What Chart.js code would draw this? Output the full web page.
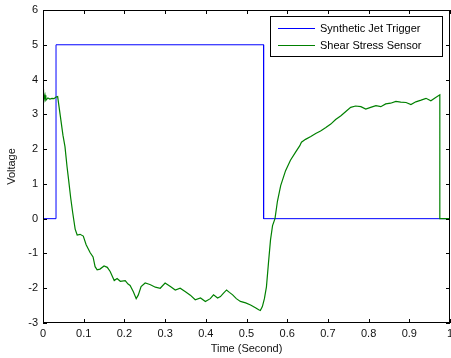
<!DOCTYPE html>
<html>
<head>
<meta charset="utf-8">
<script src="https://cdn.jsdelivr.net/npm/chart.js@4.4.1/dist/chart.umd.min.js"></script>
<style>
  html, body { margin: 0; padding: 0; background: #fff; }
  #wrap { width: 451px; height: 358px; }
</style>
</head>
<body>
<div id="wrap"><canvas id="c" width="451" height="358"></canvas></div>
<script>
// trigger signal (square pulse)
const triggerTime = [0, 0.032, 0.032, 0.542, 0.542, 1];
const triggerVolt = [0, 0, 5, 5, 0, 0];

// shear stress sensor
const sensorTime = [0, 0.001, 0.0025, 0.005, 0.007, 0.012, 0.017, 0.022, 0.027, 0.032, 0.036,
  0.042, 0.049, 0.054, 0.059, 0.063, 0.068, 0.073, 0.079, 0.084, 0.091, 0.099, 0.106, 0.116,
  0.123, 0.128, 0.133, 0.140, 0.150, 0.158, 0.165, 0.175, 0.182, 0.190, 0.202, 0.209, 0.214,
  0.222, 0.229, 0.234, 0.241, 0.251, 0.259, 0.264, 0.276, 0.288, 0.300, 0.313, 0.325, 0.337,
  0.350, 0.362, 0.374, 0.387, 0.399, 0.411, 0.419, 0.429, 0.436, 0.443, 0.451, 0.458, 0.466,
  0.475, 0.485, 0.498, 0.510, 0.522, 0.530, 0.534, 0.539, 0.544, 0.549, 0.554, 0.559, 0.564,
  0.570, 0.576, 0.584, 0.596, 0.608, 0.621, 0.631, 0.635, 0.645, 0.658, 0.670, 0.682, 0.695,
  0.707, 0.719, 0.732, 0.744, 0.756, 0.768, 0.781, 0.793, 0.805, 0.818, 0.830, 0.842, 0.854,
  0.867, 0.879, 0.892, 0.904, 0.916, 0.929, 0.941, 0.953, 0.963, 0.975, 0.975, 1];
const sensorVolt = [2.1, 3.75, 3.4, 3.55, 3.4, 3.47, 3.44, 3.46, 3.45, 3.5, 3.51,
  3.0, 2.4, 2.07, 1.5, 1.11, 0.6, 0.17, -0.3, -0.47, -0.45, -0.5, -0.75, -0.98,
  -1.1, -1.38, -1.47, -1.45, -1.36, -1.4, -1.52, -1.78, -1.72, -1.8, -1.78, -1.88, -1.92,
  -2.1, -2.3, -2.2, -1.95, -1.85, -1.88, -1.9, -1.97, -2.0, -1.85, -1.95, -2.05, -2.0,
  -2.1, -2.2, -2.33, -2.28, -2.38, -2.3, -2.19, -2.28, -2.24, -2.15, -2.05, -2.12, -2.19,
  -2.3, -2.38, -2.42, -2.48, -2.56, -2.62, -2.64, -2.53, -2.3, -1.96, -1.27, -0.61, -0.2,
  0.0, 0.5, 0.95, 1.38, 1.68, 1.92, 2.1, 2.2, 2.28, 2.36, 2.45, 2.52, 2.62,
  2.72, 2.85, 2.96, 3.08, 3.2, 3.24, 3.22, 3.15, 3.2, 3.25, 3.22, 3.3, 3.32,
  3.37, 3.35, 3.34, 3.28, 3.36, 3.41, 3.46, 3.39, 3.47, 3.56, 0, 0];

const xTicks = [0, 0.1, 0.2, 0.3, 0.4, 0.5, 0.6, 0.7, 0.8, 0.9, 1];
const yTicks = [-3, -2, -1, 0, 1, 2, 3, 4, 5, 6];

const FONT = { family: '"Liberation Sans", Arial, sans-serif', size: 11 };

// matlab style box, inward ticks and legend
const frame = {
  id: 'frame',
  afterDatasetsDraw(chart) {
    const { ctx, chartArea: a, scales: { x, y } } = chart;
    ctx.save();
    ctx.strokeStyle = '#000';
    ctx.lineWidth = 1;
    ctx.beginPath();
    xTicks.forEach(v => {
      const px = Math.round(x.getPixelForValue(v)) + 0.5;
      ctx.moveTo(px, a.bottom); ctx.lineTo(px, a.bottom - 4);
      ctx.moveTo(px, a.top); ctx.lineTo(px, a.top + 4);
    });
    yTicks.forEach(v => {
      const py = Math.round(y.getPixelForValue(v)) + 0.5;
      ctx.moveTo(a.left, py); ctx.lineTo(a.left + 4, py);
      ctx.moveTo(a.right, py); ctx.lineTo(a.right - 4, py);
    });
    ctx.stroke();
    ctx.strokeRect(a.left + 0.5, a.top + 0.5, a.right - a.left - 1, a.bottom - a.top - 1);

    // legend
    const bx = a.right - 180, by = a.top + 6, bw = 172, bh = 40;
    ctx.fillStyle = '#fff';
    ctx.fillRect(bx, by, bw, bh);
    ctx.strokeRect(bx + 0.5, by + 0.5, bw, bh);
    ctx.font = FONT.size + 'px ' + FONT.family;
    ctx.textBaseline = 'middle';
    chart.data.datasets.forEach((ds, i) => {
      const ly = Math.round(by + 12 + i * 17) + 0.5;
      ctx.strokeStyle = ds.borderColor;
      ctx.beginPath();
      ctx.moveTo(bx + 8, ly); ctx.lineTo(bx + 45, ly);
      ctx.stroke();
      ctx.fillStyle = '#000';
      ctx.fillText(ds.label, bx + 50, ly);
    });
    ctx.restore();
  }
};

new Chart(document.getElementById('c'), {
  type: 'scatter',
  data: {
    datasets: [{
      label: 'Synthetic Jet Trigger',
      data: triggerTime.map((t, i) => ({ x: t, y: triggerVolt[i] })),
      borderColor: '#0000ff',
      borderWidth: 1,
      showLine: true,
      pointRadius: 0,
      order: 1
    }, {
      label: 'Shear Stress Sensor',
      data: sensorTime.map((t, i) => ({ x: t, y: sensorVolt[i] })),
      borderColor: '#008000',
      borderWidth: 1.2,
      showLine: true,
      pointRadius: 0,
      order: 0
    }]
  },
  options: {
    responsive: false,
    animation: false,
    devicePixelRatio: 1,
    layout: { autoPadding: false, padding: { top: 10, right: 1, left: 0, bottom: 0 } },
    plugins: { legend: { display: false }, tooltip: { enabled: false } },
    scales: {
      x: {
        type: 'linear', min: 0, max: 1,
        afterBuildTicks: s => { s.ticks = xTicks.map(v => ({ value: v })); },
        afterFit: s => { s.height = 35; s.paddingLeft = 0; s.paddingRight = 0; },
        grid: { display: false, drawTicks: false },
        border: { display: false },
        ticks: { autoSkip: false, maxRotation: 0, padding: 4, color: '#111', font: FONT, callback: v => String(v) },
        title: { display: true, text: 'Time (Second)', color: '#111', font: FONT, padding: { top: 0, bottom: 2 } }
      },
      y: {
        type: 'linear', min: -3, max: 6,
        afterBuildTicks: s => { s.ticks = yTicks.map(v => ({ value: v })); },
        afterFit: s => { s.width = 43; s.paddingTop = 0; s.paddingBottom = 0; },
        grid: { display: false, drawTicks: false },
        border: { display: false },
        ticks: { autoSkip: false, padding: 5, color: '#111', font: FONT, callback: v => String(v) },
        title: { display: true, text: 'Voltage', color: '#111', font: FONT, padding: { top: 5, bottom: 0 } }
      }
    }
  },
  plugins: [frame]
});
</script>
</body>
</html>
